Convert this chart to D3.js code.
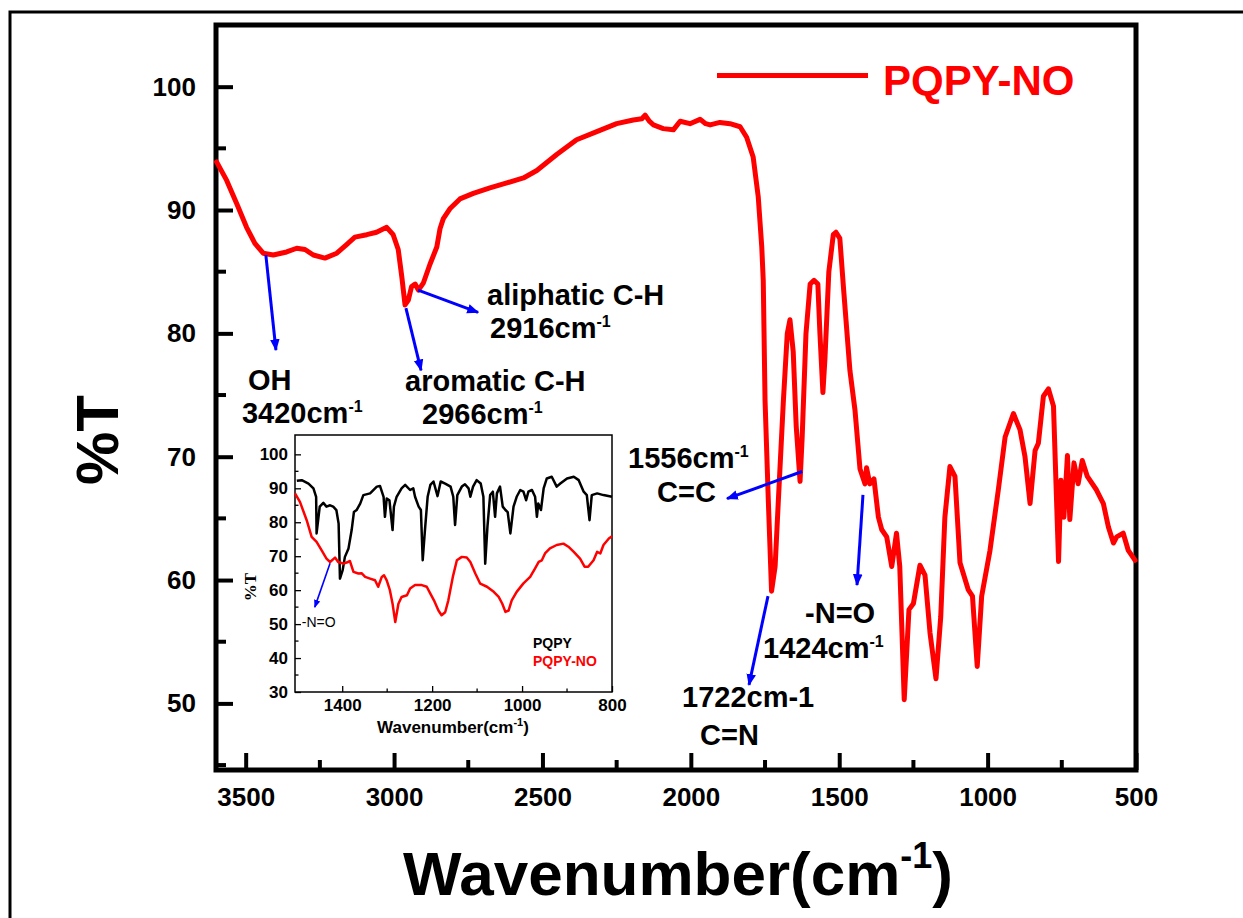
<!DOCTYPE html>
<html><head><meta charset="utf-8">
<script src="https://cdn.jsdelivr.net/npm/d3@7"></script>
<style>
html,body{margin:0;padding:0;background:#fff;}
svg{display:block;font-family:"Liberation Sans",Arial,sans-serif;}
</style></head>
<body><svg id="c" width="1243" height="918"></svg>
<script>
// ---------- DATA ----------
const mainWavenumber = [3598,3564,3530,3497,3469,3441,3407,3362,3328,3300,3272,3233,3193,3160,3132,3092,3059,3025,3003,2986,2974,2963,2952,2941,2929,2918,2901,2879,2856,2845,2834,2812,2778,2733,2677,2620,2564,2519,2452,2385,2317,2250,2194,2165,2154,2140,2126,2093,2059,2036,2003,1969,1950,1935,1902,1868,1834,1812,1790,1773,1761,1756,1750,1739,1728,1716,1705,1688,1675,1666,1655,1645,1632,1625,1612,1598,1585,1572,1565,1555,1548,1535,1520,1511,1498,1485,1464,1447,1430,1413,1408,1397,1383,1368,1357,1340,1323,1307,1296,1281,1265,1250,1228,1211,1194,1174,1158,1144,1127,1110,1093,1065,1051,1035,1020,992,964,941,913,891,874,857,840,829,812,795,778,761,753,743,731,723,709,695,681,664,633,610,593,576,565,543,526,503];
const mainTransmittance = [93.9,92.4,90.5,88.6,87.3,86.5,86.35,86.6,86.9,86.8,86.35,86.1,86.5,87.2,87.8,88.0,88.2,88.6,88.0,86.8,84.6,82.3,82.7,83.8,84.0,83.5,84.1,85.6,87.0,88.5,89.3,90.1,90.9,91.35,91.8,92.2,92.6,93.2,94.5,95.7,96.35,97.0,97.3,97.4,97.7,97.2,96.9,96.6,96.5,97.2,97.0,97.35,97.0,96.9,97.1,97.0,96.75,95.9,94.3,91.1,87.0,84.3,74.6,66.5,59.1,61.1,66.5,74.6,80.0,81.1,78.5,72.5,68.0,71.5,80.0,84.0,84.3,84.0,80.0,75.2,78.0,85.0,88.0,88.2,87.7,83.5,77.0,73.8,69.0,67.8,69.1,67.8,68.2,65.1,64.1,63.5,61.1,63.8,61.1,50.3,57.6,58.1,61.2,60.4,55.7,52.0,57.0,65.1,69.2,68.4,61.4,59.2,58.7,53.0,58.7,62.4,67.3,71.6,73.5,72.2,70.0,66.2,70.5,71.1,74.9,75.5,74.1,61.5,68.1,65.1,70.1,64.9,69.5,67.8,69.7,68.4,67.3,66.2,64.3,63.0,63.5,63.8,62.4,61.6];

const insetWnPQPY = [1501,1490,1475,1464,1458,1457,1450,1442,1435,1427,1420,1413,1408,1405,1399,1394,1386,1379,1374,1368,1360,1353,1338,1323,1316,1308,1305,1301,1295,1288,1285,1279,1268,1260,1249,1242,1238,1230,1225,1221,1216,1210,1204,1197,1188,1181,1171,1159,1153,1149,1144,1134,1127,1119,1115,1109,1101,1092,1086,1082,1077,1071,1065,1060,1056,1049,1043,1037,1032,1026,1019,1012,1004,997,991,986,978,971,967,964,958,952,945,934,923,915,900,885,874,863,856,850,845,833,819,800];
const insetTPQPY = [92.2,92.4,91.4,90.0,87.5,76.7,84.6,85.7,84.6,85.0,84.6,83.6,79.6,63.4,65.9,69.8,72.3,77.7,83.0,83.6,85.5,88.0,88.5,90.5,90.7,87.5,81.6,87.0,86.5,77.7,84.6,87.5,90.0,91.0,89.5,90.0,87.5,84.6,83.6,68.8,77.7,87.5,91.0,92.0,87.7,92.0,91.4,90.5,87.5,79.2,88.0,90.5,91.2,90.0,87.5,90.5,92.4,91.4,87.5,67.8,78.7,88.0,89.0,81.6,88.5,90.5,84.6,83.6,83.0,76.7,84.6,87.5,89.5,89.0,86.5,89.0,89.5,87.5,81.6,85.5,83.6,90.0,92.9,93.4,90.5,91.4,92.9,93.4,92.4,89.0,88.0,80.6,88.0,88.5,88.0,87.5];
const insetWnPQPYNO = [1505,1494,1479,1468,1457,1446,1435,1427,1416,1409,1397,1387,1383,1375,1364,1357,1349,1338,1327,1320,1312,1307,1301,1294,1288,1282,1275,1268,1256,1249,1238,1223,1212,1204,1196,1186,1179,1171,1164,1154,1145,1134,1123,1115,1104,1093,1078,1063,1052,1044,1037,1030,1023,1012,997,982,971,963,956,949,938,923,908,897,885,871,861,853,841,833,826,819,807,800];
const insetTPQPYNO = [88.5,86.0,80.6,75.7,74.2,71.8,69.3,68.3,69.6,68.3,67.8,68.3,68.6,65.4,64.9,65.0,63.9,63.4,62.9,61.0,63.9,64.4,62.9,60.0,56.0,50.6,56.0,58.0,58.5,60.5,61.5,61.5,61.0,59.0,57.0,54.0,52.6,53.5,57.0,63.9,68.8,69.8,69.6,68.3,64.9,61.9,61.0,59.5,58.0,56.0,53.6,54.0,57.0,59.5,62.0,63.9,66.4,68.3,68.8,70.8,72.3,73.3,73.7,72.8,71.3,69.3,66.9,66.9,68.8,71.3,70.8,73.3,75.2,75.9];

const mainXTicks = [3500,3000,2500,2000,1500,1000,500];
const mainYTicks = [50,60,70,80,90,100];
const insetXTicks = [1400,1200,1000,800];
const insetYTicks = [30,40,50,60,70,80,90,100];
const seriesNames = ["PQPY-NO"];
const insetSeriesNames = ["PQPY","PQPY-NO"];

// annotations: arrow tail (w,v) on curve, arrow head (w2,v2); text lines [text, superscript]
const annotations = [
  {w:3432,v:86.35,w2:3398,v2:78.65,lines:[["OH",""],["3420cm","-1"]],off:[[-28,40],[-34,73]]},
  {w:2960,v:82.05,w2:2909,v2:77.0,lines:[["aromatic C-H",""],["2966cm","-1"]],off:[[-16,21],[1,54]]},
  {w:2919,v:83.5,w2:2717,v2:81.7,lines:[["aliphatic C-H",""],["2916cm","-1"]],off:[[9,-7],[12,26]]},
  {w:1625,v:68.8,w2:1878,v2:66.6,lines:[["1556cm","-1"],["C=C",""]],off:[[-99,-31],[-70,3]]},
  {w:1740,v:58.7,w2:1804,v2:51.5,lines:[["1722cm-1",""],["C=N",""]],off:[[-67,22],[-49,60]]},
  {w:1420,v:66.9,w2:1440,v2:59.6,lines:[["-N=O",""],["1424cm","-1"]],off:[[-52,38],[-94,73]]}
];
const insetAnnotation = {w:1427,v:67.95,w2:1461,v2:55.0,text:"-N=O"};

// ---------- LAYOUT ----------
const svg = d3.select("#c");
const M = {left:216, right:1136, top:25, bottom:770};
const x = d3.scaleLinear().domain([3600,500]).range([M.left,M.right]);
const y = d3.scaleLinear().domain([44.6,105]).range([M.bottom,M.top]);

const defs = svg.append("defs");
defs.append("marker").attr("id","ah").attr("viewBox","0 0 10 10").attr("refX",9).attr("refY",5)
  .attr("markerWidth",4).attr("markerHeight",4).attr("orient","auto").attr("markerUnits","strokeWidth")
  .append("path").attr("d","M0,1 L10,5 L0,9 Z").attr("fill","#0000ff");
defs.append("marker").attr("id","ah2").attr("viewBox","0 0 10 10").attr("refX",9).attr("refY",5)
  .attr("markerWidth",5).attr("markerHeight",5).attr("orient","auto").attr("markerUnits","strokeWidth")
  .append("path").attr("d","M0,1 L10,5 L0,9 Z").attr("fill","#0000ff");

// outer frame
svg.append("path").attr("d","M10,918 L10,12 L1243,12").attr("fill","none").attr("stroke","#000").attr("stroke-width",3);

// main axes
const gx = svg.append("g").attr("transform",`translate(0,${M.bottom})`)
  .call(d3.axisBottom(x).tickValues(mainXTicks).tickSize(-17).tickPadding(18).tickFormat(d3.format("d")));
const gy = svg.append("g").attr("transform",`translate(${M.left},0)`)
  .call(d3.axisLeft(y).tickValues(mainYTicks).tickSize(-17).tickPadding(20).tickFormat(d3.format("d")));
[gx,gy].forEach(g=>{
  g.select(".domain").remove();
  g.selectAll(".tick line").attr("stroke","#000").attr("stroke-width",4);
  g.selectAll("text").attr("font-size",26).attr("font-weight","bold").attr("fill","#000")
   .attr("font-family","'Liberation Sans',Arial,sans-serif");
});
gx.selectAll("text").attr("dy","0.71em");
const minorX = d3.range(3250,600,-500);
svg.append("g").selectAll("line").data(minorX).join("line")
  .attr("x1",d=>x(d)).attr("x2",d=>x(d)).attr("y1",M.bottom).attr("y2",M.bottom-10)
  .attr("stroke","#000").attr("stroke-width",4);
const minorY = d3.range(45,105,10);
svg.append("g").selectAll("line").data(minorY).join("line")
  .attr("x1",M.left).attr("x2",M.left+10).attr("y1",d=>y(d)).attr("y2",d=>y(d))
  .attr("stroke","#000").attr("stroke-width",4);
svg.append("rect").attr("x",M.left).attr("y",M.top).attr("width",M.right-M.left).attr("height",M.bottom-M.top)
  .attr("fill","none").attr("stroke","#000").attr("stroke-width",5);

// main curve
const mainData = mainWavenumber.map((w,i)=>({w,v:mainTransmittance[i]}));
svg.append("path").datum(mainData).attr("fill","none").attr("stroke","#ff0000").attr("stroke-width",5)
  .attr("stroke-linejoin","round").attr("stroke-linecap","round")
  .attr("d",d3.line().x(d=>x(d.w)).y(d=>y(d.v)));

// legend
svg.append("line").attr("x1",717).attr("x2",868).attr("y1",75.5).attr("y2",75.5)
  .attr("stroke","#ff0000").attr("stroke-width",5);
svg.append("text").attr("x",883).attr("y",95).text(seriesNames[0])
  .attr("font-size",42).attr("font-weight","bold").attr("fill","#ff0000");

// axis titles
const xt = svg.append("text").attr("x",678).attr("y",895).attr("text-anchor","middle")
  .attr("font-size",62).attr("font-weight","bold").attr("fill","#000");
xt.append("tspan").text("Wavenumber(cm");
xt.append("tspan").text("-1").attr("font-size",36).attr("dy",-27);
xt.append("tspan").text(")").attr("dy",27);
svg.append("text").attr("transform","translate(118,440) rotate(-90)").attr("text-anchor","middle")
  .attr("font-size",60).attr("font-weight","bold").attr("fill","#000").text("%T");

// annotations
annotations.forEach(a=>{
  const hx = x(a.w2), hy = y(a.v2);
  svg.append("line").attr("x1",x(a.w)).attr("y1",y(a.v)).attr("x2",hx).attr("y2",hy)
    .attr("stroke","#0000ff").attr("stroke-width",3).attr("marker-end","url(#ah)");
  const t = svg.append("text").attr("x",hx+a.off[0][0]).attr("y",hy+a.off[0][1])
    .attr("font-size",29).attr("font-weight","bold").attr("fill","#000");
  a.lines.forEach((ln,i)=>{
    const by = hy+a.off[i][1];
    t.append("tspan").attr("x",hx+a.off[i][0]).attr("y",by).text(ln[0]);
    if(ln[1]) t.append("tspan").attr("y",by-11).attr("font-size",16).text(ln[1]);
  });
});

// ---------- INSET ----------
const I = {left:295, right:612, top:435, bottom:692};
const xi = d3.scaleLinear().domain([1505,800]).range([I.left,I.right]);
const yi = d3.scaleLinear().domain([30,105.7]).range([I.bottom,I.top]);
svg.append("rect").attr("x",I.left).attr("y",I.top).attr("width",I.right-I.left).attr("height",I.bottom-I.top)
  .attr("fill","#fff").attr("stroke","none");
const gxi = svg.append("g").attr("transform",`translate(0,${I.bottom})`)
  .call(d3.axisBottom(xi).tickValues(insetXTicks).tickSize(-6).tickPadding(7).tickFormat(d3.format("d")));
const gyi = svg.append("g").attr("transform",`translate(${I.left},0)`)
  .call(d3.axisLeft(yi).tickValues(insetYTicks).tickSize(-6).tickPadding(7).tickFormat(d3.format("d")));
[gxi,gyi].forEach(g=>{
  g.select(".domain").remove();
  g.selectAll(".tick line").attr("stroke","#000").attr("stroke-width",1.3);
  g.selectAll("text").attr("font-size",17).attr("font-weight","bold").attr("fill","#000")
   .attr("font-family","'Liberation Sans',Arial,sans-serif");
});
svg.append("g").selectAll("line").data(d3.range(1300,800,-200)).join("line")
  .attr("x1",d=>xi(d)).attr("x2",d=>xi(d)).attr("y1",I.bottom).attr("y2",I.bottom-3.5)
  .attr("stroke","#000").attr("stroke-width",1.3);
svg.append("g").selectAll("line").data(d3.range(35,105,10)).join("line")
  .attr("x1",I.left).attr("x2",I.left+3.5).attr("y1",d=>yi(d)).attr("y2",d=>yi(d))
  .attr("stroke","#000").attr("stroke-width",1.3);
svg.append("rect").attr("x",I.left).attr("y",I.top).attr("width",I.right-I.left).attr("height",I.bottom-I.top)
  .attr("fill","none").attr("stroke","#000").attr("stroke-width",1.5);

const lineI = d3.line().x(d=>xi(d.w)).y(d=>yi(d.v));
svg.append("path").datum(insetWnPQPY.map((w,i)=>({w,v:insetTPQPY[i]})))
  .attr("fill","none").attr("stroke","#000").attr("stroke-width",2.5).attr("stroke-linejoin","round").attr("d",lineI);
svg.append("path").datum(insetWnPQPYNO.map((w,i)=>({w,v:insetTPQPYNO[i]})))
  .attr("fill","none").attr("stroke","#ff0000").attr("stroke-width",2.5).attr("stroke-linejoin","round").attr("d",lineI);

svg.append("line").attr("x1",xi(insetAnnotation.w)).attr("y1",yi(insetAnnotation.v))
  .attr("x2",xi(insetAnnotation.w2)).attr("y2",yi(insetAnnotation.v2))
  .attr("stroke","#0000ff").attr("stroke-width",1.6).attr("marker-end","url(#ah2)");
svg.append("text").attr("x",xi(insetAnnotation.w2)-13).attr("y",yi(insetAnnotation.v2)+20)
  .attr("font-size",14).attr("fill","#000").text(insetAnnotation.text);

svg.append("text").attr("x",533).attr("y",648).attr("font-size",14).attr("font-weight","bold").attr("fill","#000").text(insetSeriesNames[0]);
svg.append("text").attr("x",533).attr("y",666).attr("font-size",14).attr("font-weight","bold").attr("fill","#ff0000").text(insetSeriesNames[1]);

const xti = svg.append("text").attr("x",453).attr("y",733).attr("text-anchor","middle")
  .attr("font-size",17).attr("font-weight","bold").attr("fill","#000");
xti.append("tspan").text("Wavenumber(cm");
xti.append("tspan").text("-1").attr("font-size",11).attr("dy",-7);
xti.append("tspan").text(")").attr("dy",7);
svg.append("text").attr("transform","translate(256,587) rotate(-90)").attr("text-anchor","middle")
  .attr("font-size",17).attr("font-weight","bold").attr("font-family","'Liberation Serif','Times New Roman',serif")
  .attr("fill","#000").text("%T");
</script></body></html>
